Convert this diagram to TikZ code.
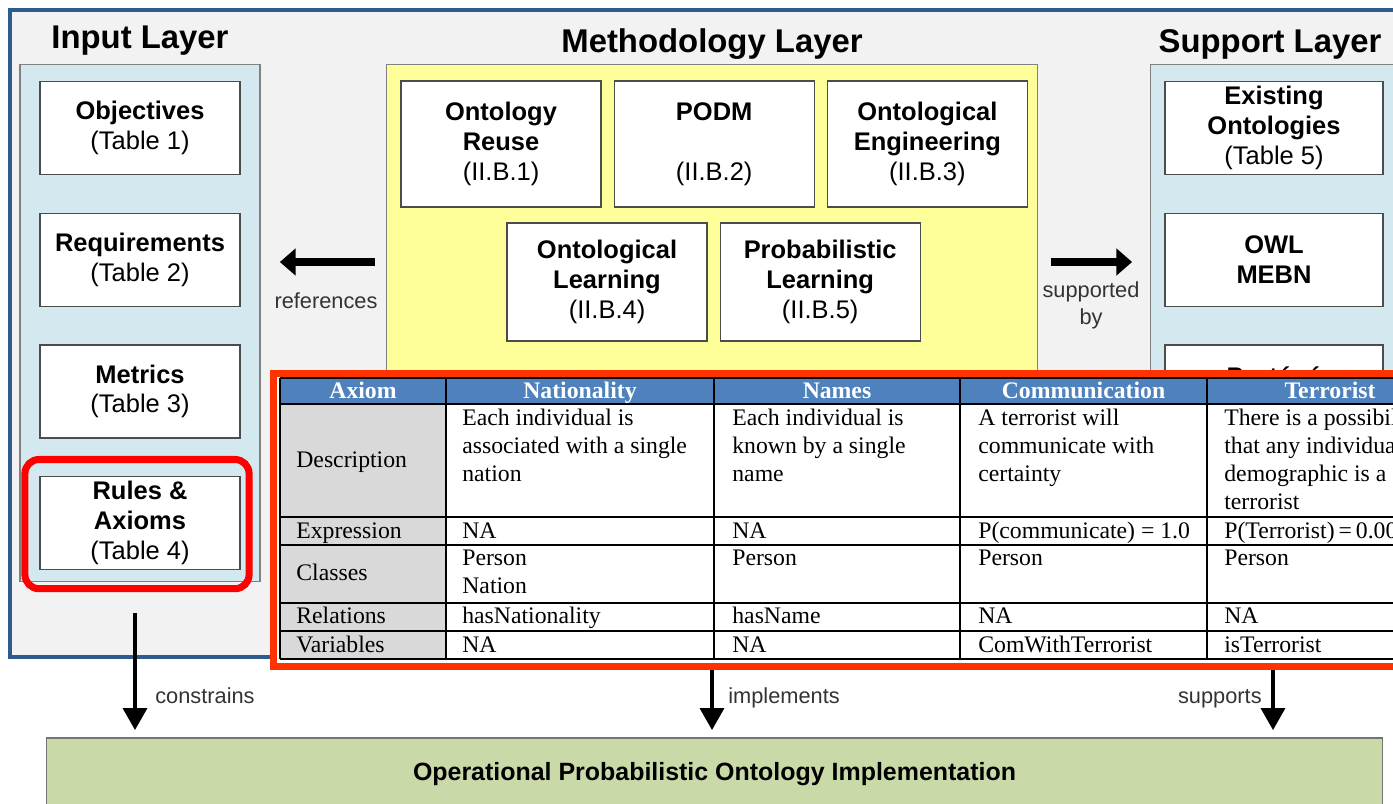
\documentclass[tikz,border=0pt]{standalone}
\usepackage{fontspec}
\setmainfont{Liberation Serif}
\setsansfont{Liberation Sans}
\usetikzlibrary{positioning,calc,arrows.meta}
\definecolor{framegray}{HTML}{F2F2F2}
\definecolor{frameblue}{HTML}{2F5A8F}
\definecolor{panelblue}{HTML}{D3E9EF}
\definecolor{panelyellow}{HTML}{FFFF99}
\definecolor{implgreen}{HTML}{CAD9A8}
\definecolor{headblue}{HTML}{4F81BD}
\definecolor{cellgray}{HTML}{D9D9D9}
\definecolor{hilite}{HTML}{FF3300}
\tikzset{
panel/.style={rectangle,draw=black!50,line width=0.6pt,inner sep=0pt,outer sep=0pt},
item/.style={rectangle,draw=black!70,fill=white,line width=0.7pt,align=center,
  minimum width=4cm,minimum height=1.86cm,inner sep=0pt,
  font=\sffamily\fontsize{14.5}{17}\selectfont},
layertitle/.style={anchor=base,font=\sffamily\bfseries\fontsize{18.7}{22}\selectfont},
linklabel/.style={inner sep=0pt,font=\sffamily\fontsize{12.4}{15.3}\selectfont,text=black!80,align=center},
fatarrow/.style={line width=4.5pt,-{Triangle[length=9pt,width=15pt]}},
downarrow/.style={line width=2.3pt,-{Triangle[length=12.5pt,width=13.5pt]}},
cell/.style={anchor=base west,inner sep=0pt,font=\fontsize{13.5}{15.9}\selectfont},
headcell/.style={anchor=base,inner sep=0pt,text=white,font=\bfseries\fontsize{13.5}{15.9}\selectfont},
%gridline/.style={line width=1.5pt}
}

\begin{document}
\begin{tikzpicture}[x=0.02cm,y=-0.02cm]
    \clip (0,0) rectangle (1393,804);
    % frame round the three layers
    \draw[frameblue,line width=2.2pt,fill=framegray] (10,10) rectangle (1450,657);

    % input layer
    \node[layertitle] (intitle) at (140,49) {Input Layer};
    \node[panel,fill=panelblue,minimum width=4.8cm,minimum height=10.36cm] (inpanel) at (140,323) {};
    \node[item] (objectives) at (140,128) {\textbf{Objectives}\\(Table 1)};
    \node[item,below=0.75cm of objectives] (requirements) {\textbf{Requirements}\\(Table 2)};
    \node[item,below=0.75cm of requirements] (metrics) {\textbf{Metrics}\\(Table 3)};
    \node[item,below=0.75cm of metrics] (rules) {\textbf{Rules \&}\\\textbf{Axioms}\\(Table 4)};

    % methodology layer
    \node[layertitle] (methtitle) at (712,53) {Methodology Layer};
    \node[panel,fill=panelyellow,minimum width=13.04cm,minimum height=6.92cm] (methpanel) at (712,237) {};
    \node[item,minimum height=2.52cm] (reuse) at (501,144) {\textbf{Ontology}\\\textbf{Reuse}\\(II.B.1)};
    \node[item,minimum height=2.52cm,right=0.24cm of reuse] (podm) {\textbf{PODM}\\~\\(II.B.2)};
    \node[item,minimum height=2.52cm,right=0.24cm of podm] (engineering) {\textbf{Ontological}\\\textbf{Engineering}\\(II.B.3)};
    \node[item,minimum height=2.36cm] (learning) at (607,282) {\textbf{Ontological}\\\textbf{Learning}\\(II.B.4)};
    \node[item,minimum height=2.36cm,right=0.24cm of learning] (problearn) {\textbf{Probabilistic}\\\textbf{Learning}\\(II.B.5)};

    % support layer
    \node[layertitle] (suptitle) at (1270,53) {Support Layer};
    \node[panel,fill=panelblue,minimum width=5.8cm,minimum height=11.52cm] (suppanel) at (1295,352) {};
    \node[item,minimum width=4.36cm] (existing) at (1274,128) {\textbf{Existing}\\\textbf{Ontologies}\\(Table 5)};
    \node[item,minimum width=4.36cm,below=0.75cm of existing] (owl) {\textbf{OWL}\\\textbf{MEBN}};
    \node[item,minimum width=4.36cm,below=0.75cm of owl] (protege) {\textbf{Protégé}\\~};

    % links between the layers
    \coordinate (linky) at (0,262);
    \draw[fatarrow,shorten <=6.2pt,shorten >=11.3pt] (methpanel.west |- linky) -- (inpanel.east |- linky);
    \node[linklabel,anchor=base] (reflbl) at (326,309) {references};
    \draw[fatarrow,shorten <=7.4pt,shorten >=10.2pt] (methpanel.east |- linky) -- (suppanel.west |- linky);
    \node[linklabel] (suplbl) at (1091,305) {supported\\by};

    % implementation
    \node[panel,fill=implgreen,draw=black!55,minimum width=26.72cm,minimum height=1.44cm,
      font=\sffamily\bfseries\fontsize{14.2}{16}\selectfont] (opoi) at (714.5,774) {Operational Probabilistic Ontology Implementation};
    \coordinate (constart) at (135,613);
    \coordinate (supstart) at (1273,640);
    \draw[downarrow,shorten >=4.5pt] (constart) -- (constart |- opoi.north);
    \draw[downarrow,shorten >=4.5pt] (methpanel.south) -- (methpanel.south |- opoi.north);
    \draw[downarrow,shorten >=4.5pt] (supstart) -- (supstart |- opoi.north);
    \node[linklabel,anchor=base west] (conlbl) at (155,703) {constrains};
    \node[linklabel,anchor=base west] (impllbl) at (728,703) {implements};
    \node[linklabel,anchor=base east] (supportslbl) at (1262,703) {supports};

    % highlight of the rules box
    \draw[red,line width=4pt,rounded corners=8pt] ($(rules.south west)+(-14.5,18.5)$) rectangle ($(rules.north east)+(8.5,-16.5)$);

    % axiom table
    \draw[hilite,line width=4pt,fill=white] (273.5,373.5) rectangle (1460,666.5);
    \fill[headblue] (280,378) rectangle (1460,404);
    \fill[cellgray] (280,404) rectangle (446,659);
    \foreach \y in {378,404,517,545,603,631,659}
        \draw[line width=1.5pt] (280,\y) -- (1460,\y);
    \foreach \x in {280,446,714,960,1207}
        \draw[line width=1.5pt] (\x,378) -- (\x,659);
    \foreach \x/\t [count=\i] in {363/Axiom,580/Nationality,837/Names,1083.5/Communication,1330/Terrorist}
        \node[headcell] (head\i) at (\x,398) {\t};
    \foreach \y/\t [count=\i] in {467/Description,538/Expression,580/Classes,623/Relations,652/Variables}
        \node[cell] (row\i) at (296,\y) {\t};
    % description lines
    \foreach \t [count=\k] in {Each individual is,associated with a single,nation}
        \node[cell] (nat\k) at (462,{397+28*\k}) {\t};
    \foreach \t [count=\k] in {Each individual is,known by a single,name}
        \node[cell] (nam\k) at (732,{397+28*\k}) {\t};
    \foreach \t [count=\k] in {A terrorist will,communicate with,certainty}
        \node[cell] (com\k) at (978,{397+28*\k}) {\t};
    \foreach \t [count=\k] in {There is a possibility,that any individual in a,demographic is a,terrorist}
        \node[cell] (ter\k) at (1224,{397+28*\k}) {\t};
    % remaining rows
    \node[cell] (natexp) at (462,538) {NA};
    \node[cell] (namexp) at (732,538) {NA};
    \node[cell] (comexp) at (978,538) {P(communicate) = 1.0};
    \node[cell] (terexp) at (1224,538) {P(Terrorist)\,=\,0.001};
    \node[cell] (natcls) at (462,565) {Person};
    \node[cell] (natcls2) at (462,593) {Nation};
    \node[cell] (namcls) at (732,565) {Person};
    \node[cell] (comcls) at (978,565) {Person};
    \node[cell] (tercls) at (1224,565) {Person};
    \node[cell] (natrel) at (462,623) {hasNationality};
    \node[cell] (namrel) at (732,623) {hasName};
    \node[cell] (comrel) at (978,623) {NA};
    \node[cell] (terrel) at (1224,623) {NA};
    \node[cell] (natvar) at (462,652) {NA};
    \node[cell] (namvar) at (732,652) {NA};
    \node[cell] (comvar) at (978,652) {ComWithTerrorist};
    \node[cell] (tervar) at (1224,652) {isTerrorist};
\end{tikzpicture}
\end{document}
